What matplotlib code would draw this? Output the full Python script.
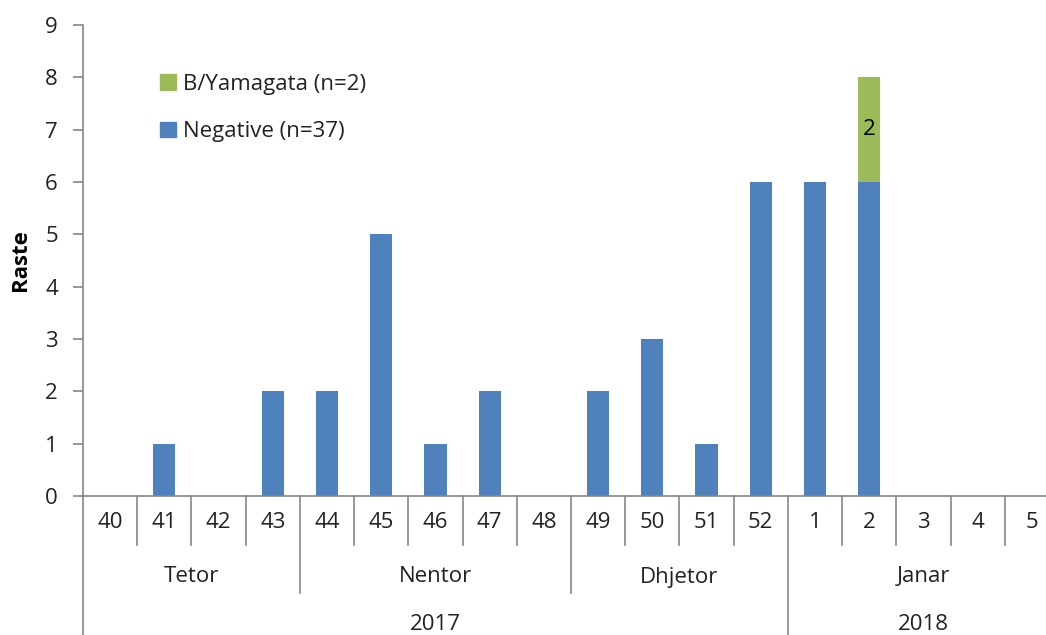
import matplotlib
matplotlib.use("Agg")
import matplotlib.pyplot as plt
import matplotlib.transforms as mtransforms
from matplotlib.patches import Patch

weeks = ["40", "41", "42", "43", "44", "45", "46", "47", "48", "49", "50", "51", "52",
         "1", "2", "3", "4", "5"]
negative = [0, 1, 0, 2, 2, 5, 1, 2, 0, 2, 3, 1, 6, 6, 6, 0, 0, 0]
yamagata = [0, 0, 0, 0, 0, 0, 0, 0, 0, 0, 0, 0, 0, 0, 2, 0, 0, 0]
months = ["Tetor", "Nentor", "Dhjetor", "Janar"]
month_sizes = [4, 5, 4, 5]
years = ["2017", "2018"]
year_sizes = [13, 5]

blue = "#4F81BD"
green = "#9BBB59"
gray = "#868686"
txt = "#222222"
FS = 16

plt.rcParams['font.family'] = ['Open Sans', 'DejaVu Sans']

W, H = 1046, 635
fig = plt.figure(figsize=(W / 100, H / 100), dpi=100)
left, right, top, bottom = 83, 1059, 25, 496
ax = fig.add_axes([left / W, (H - bottom) / H, (right - left) / W, (bottom - top) / H])

x = list(range(len(weeks)))
bw = 0.41
ax.bar(x, negative, width=bw, color=blue, zorder=2)
ax.bar(x, yamagata, width=bw, bottom=negative, color=green, zorder=2)
for i, v in enumerate(yamagata):
    if v > 0:
        ax.text(i, negative[i] + v / 2, str(v), ha="center", va="center", fontsize=FS, color="black")

ax.set_xlim(-0.5, len(weeks) - 0.5)
ax.set_ylim(0, 9)
ax.set_yticks(range(0, 10))
ax.tick_params(axis="y", direction="out", length=7, width=1.2, color=gray, labelsize=FS,
               labelcolor=txt, pad=11)
ax.set_xticks([])
for s in ["top", "right"]:
    ax.spines[s].set_visible(False)
for s in ["left", "bottom"]:
    ax.spines[s].set_color(gray)
    ax.spines[s].set_linewidth(1.2)
ax.set_ylabel("Raste", fontsize=FS, fontweight="bold", labelpad=10, color="black")

# multi-level category axis
trans = mtransforms.blended_transform_factory(ax.transData, fig.transFigure)
def fy(py):
    return (H - py) / H

for i, w in enumerate(weeks):
    ax.text(i, fy(523), w, transform=trans, ha="center", va="center", fontsize=FS, color=txt)

month_bounds = []
pos = -0.5
for m, n in zip(months, month_sizes):
    ax.text(pos + n / 2, fy(577), m, transform=trans, ha="center", va="center", fontsize=FS, color=txt)
    pos += n
    month_bounds.append(pos)

year_bounds = []
pos = -0.5
for yname, n in zip(years, year_sizes):
    ax.text(pos + n / 2, fy(625), yname, transform=trans, ha="center", va="center", fontsize=FS, color=txt)
    pos += n
    year_bounds.append(pos)

for i in range(len(weeks) - 1):
    b = i + 0.5
    if b in year_bounds:
        yend = H
    elif b in month_bounds:
        yend = 593
    else:
        yend = 545
    ax.plot([b, b], [fy(bottom), fy(yend)], transform=trans, color=gray, lw=1.2, clip_on=False)
# left axis continuation
ax.plot([-0.5, -0.5], [fy(bottom), 0], transform=trans, color=gray, lw=1.2, clip_on=False)

handles = [Patch(color=green, label="B/Yamagata (n=2)"), Patch(color=blue, label="Negative (n=37)")]
ax.legend(handles=handles, loc="upper left", bbox_to_anchor=(0.079, 0.897), frameon=False,
          borderpad=0, borderaxespad=0, fontsize=FS, handlelength=0.7, handleheight=0.7,
          handletextpad=0.35, labelspacing=1.2, labelcolor=txt)

fig.savefig("out.png", dpi=100)
